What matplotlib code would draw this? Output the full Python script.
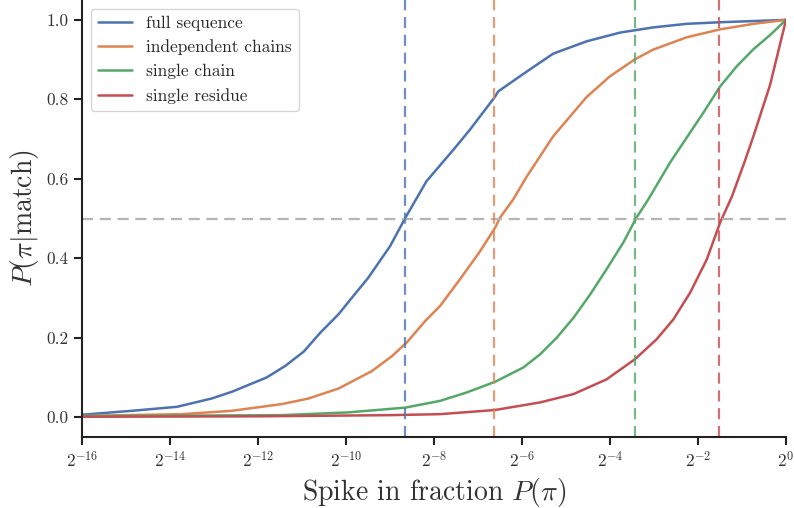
import numpy as np
import seaborn as sns
from matplotlib import pyplot as plt

# values (x as log2 of spike-in fraction)
full_x = [-16, -14.86, -13.84, -13.05, -12.59, -11.8, -11.38, -10.96, -10.58, -10.17, -9.9, -9.5,
          -9.0, -8.66, -8.17, -7.56, -7.18, -6.61, -6.54, -5.89, -5.29, -4.53, -3.77, -3.02,
          -2.26, -1.5, -0.74, 0]
full_p = [0.006, 0.016, 0.026, 0.047, 0.064, 0.1, 0.129, 0.165, 0.213, 0.259, 0.296, 0.35,
          0.43, 0.5, 0.594, 0.673, 0.724, 0.807, 0.82, 0.87, 0.915, 0.946, 0.968, 0.981,
          0.99, 0.994, 0.997, 1.0]

indep_x = [-16, -13.73, -12.59, -11.45, -10.85, -10.17, -9.41, -8.95, -8.61, -8.2, -7.86, -7.41,
           -6.95, -6.61, -6.5, -6.2, -5.89, -5.29, -4.53, -4.0, -3.43, -3.02, -2.26, -1.5, -0.74, 0]
indep_p = [0.003, 0.0075, 0.016, 0.033, 0.047, 0.072, 0.116, 0.154, 0.189, 0.242, 0.28, 0.347,
           0.418, 0.477, 0.502, 0.548, 0.606, 0.707, 0.806, 0.858, 0.901, 0.925, 0.956, 0.976,
           0.99, 1.0]

chain_x = [-16, -11.45, -9.94, -8.65, -7.86, -7.26, -6.61, -5.97, -5.59, -5.21, -4.83, -4.45,
           -4.08, -3.70, -3.40, -3.13, -2.64, -1.88, -1.5, -1.12, -0.74, -0.36, 0]
chain_p = [0.0025, 0.005, 0.012, 0.024, 0.041, 0.062, 0.089, 0.125, 0.158, 0.2, 0.25, 0.309,
           0.372, 0.439, 0.502, 0.548, 0.64, 0.766, 0.832, 0.883, 0.926, 0.962, 1.0]

res_x = [-16, -12, -9, -7.86, -6.61, -5.59, -4.83, -4.08, -3.43, -2.94, -2.56, -2.18, -1.80,
         -1.5, -1.23, -0.95, -0.74, -0.36, 0]
res_p = [0.001, 0.002, 0.005, 0.0075, 0.018, 0.037, 0.058, 0.095, 0.146, 0.196, 0.246, 0.313,
         0.397, 0.489, 0.555, 0.64, 0.707, 0.837, 1.0]

labels = ["full sequence", "independent chains", "single chain", "single residue"]
half_points = [-8.66, -6.64, -3.43, -1.52]

sns.set_theme(style="ticks", palette="deep")
plt.rcParams['font.family'] = ['serif']
plt.rcParams['font.serif'] = ['cmr10']
plt.rcParams['mathtext.fontset'] = 'cm'
plt.rcParams['axes.unicode_minus'] = False
plt.rcParams['axes.formatter.use_mathtext'] = True

colors = sns.color_palette("deep")

fig = plt.figure(figsize=(7.94, 5.08), dpi=100)
ax = fig.add_axes([82 / 794, 71 / 508, 704 / 794, 437 / 508])

series = [(full_x, full_p), (indep_x, indep_p), (chain_x, chain_p), (res_x, res_p)]
for (xs, ps), lab, c in zip(series, labels, colors):
    ax.plot(2.0 ** np.array(xs), ps, color=c, lw=1.8, label=lab)

ax.axhline(0.5, color="#b4b4b4", ls="--", lw=1.6, dashes=(5, 3))
for h, c in zip(half_points, colors):
    ax.axvline(2.0 ** h, color=c, ls="--", lw=1.6, alpha=0.8, dashes=(5, 3))

ax.set_xscale("log", base=2)
ax.set_xlim(2.0 ** -16, 1)
ax.set_ylim(-0.05, 1.05)
exps = list(range(-16, 1, 2))
ax.set_xticks([2.0 ** e for e in exps])
ax.set_xticklabels([r"$2^{%d}$" % e for e in exps])
ax.minorticks_off()
ax.set_yticks([0.0, 0.2, 0.4, 0.6, 0.8, 1.0])
ax.set_yticklabels(["0.0", "0.2", "0.4", "0.6", "0.8", "1.0"])

ax.tick_params(labelsize=12.5, width=1.5, length=6, color="#222222", labelcolor="#333333")
for s in ["left", "bottom"]:
    ax.spines[s].set_linewidth(1.5)
    ax.spines[s].set_color("#222222")
sns.despine(ax=ax)

ax.set_xlabel(r"Spike in fraction $P(\pi)$", fontsize=20, color="#333333")
ax.set_ylabel(r"$P(\pi|\mathrm{match})$", fontsize=20, color="#333333")

ax.legend(loc="upper left", fontsize=12.5, frameon=True)

fig.savefig("out.png", dpi=100)
